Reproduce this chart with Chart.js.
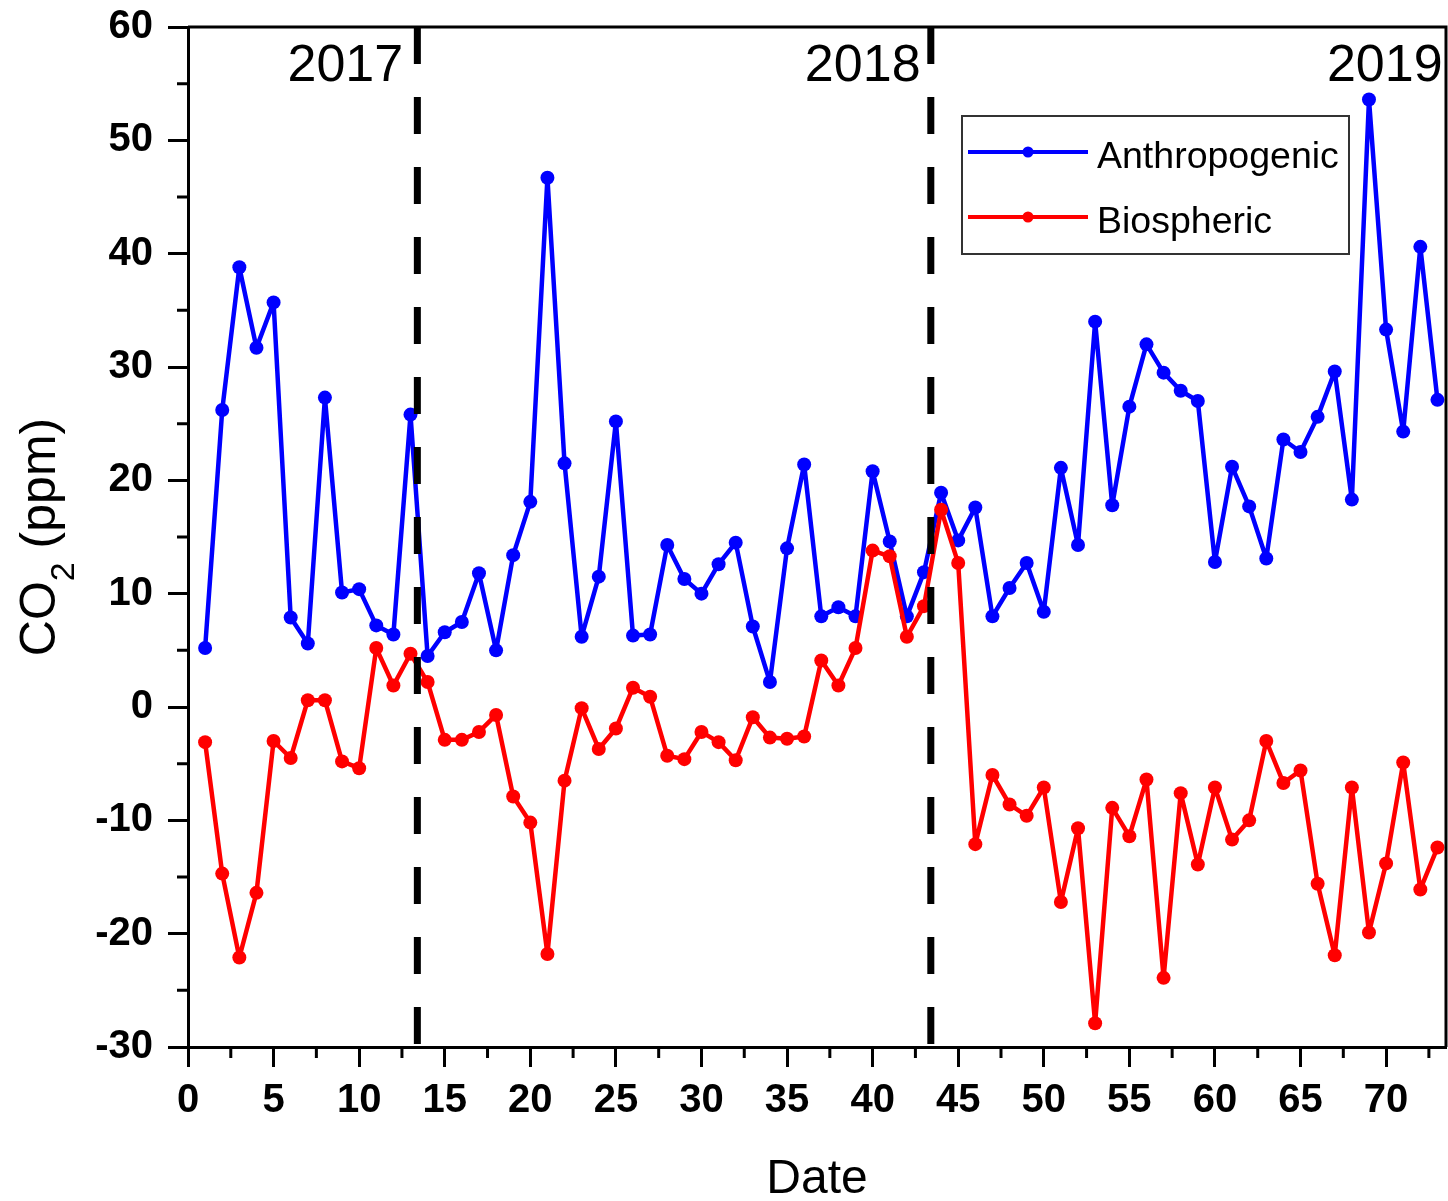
<!DOCTYPE html>
<html lang="en">
<head>
<meta charset="utf-8">
<title>CO2 (ppm) - Anthropogenic / Biospheric</title>
<script src="https://cdn.jsdelivr.net/npm/chart.js@4.4.1/dist/chart.umd.min.js"></script>
<style>
    html, body { margin: 0; padding: 0; background: #fff; }
    canvas { display: block; }
</style>
</head>
<body>
<canvas id="chartCO2" width="1448" height="1201"></canvas>
<script>
// Número de muestra (eje X)
const dates = [
    1, 2, 3, 4, 5, 6, 7, 8, 9, 10, 11, 12, 13, 14, 15, 16, 17, 18, 19, 20,
    21, 22, 23, 24, 25, 26, 27, 28, 29, 30, 31, 32, 33, 34, 35, 36, 37, 38, 39, 40,
    41, 42, 43, 44, 45, 46, 47, 48, 49, 50, 51, 52, 53, 54, 55, 56, 57, 58, 59, 60,
    61, 62, 63, 64, 65, 66, 67, 68, 69, 70, 71, 72, 73
];

// CO2 antropogénico (ppm)
const anthropogenic = [
    5.2, 26.2, 38.8, 31.7, 35.7, 7.9, 5.6, 27.3, 10.1, 10.4, 7.2, 6.4, 25.8, 4.5, 6.6, 7.5, 11.8, 5.0, 13.4, 18.1,
    46.7, 21.5, 6.2, 11.5, 25.2, 6.3, 6.4, 14.3, 11.3, 10.0, 12.6, 14.5, 7.1, 2.2, 14.0, 21.4, 8.0, 8.8, 8.0, 20.8,
    14.6, 8.0, 11.9, 18.9, 14.7, 17.6, 8.0, 10.5, 12.7, 8.4, 21.1, 14.3, 34.0, 17.8, 26.5, 32.0, 29.5, 27.9, 27.0, 12.8,
    21.2, 17.7, 13.1, 23.6, 22.5, 25.6, 29.6, 18.3, 53.6, 33.3, 24.3, 40.6, 27.1
];

// CO2 biosférico (ppm)
const biospheric = [
    -3.1, -14.7, -22.1, -16.4, -3.0, -4.5, 0.6, 0.6, -4.8, -5.4, 5.2, 1.9, 4.7, 2.2, -2.9, -2.9, -2.2, -0.7, -7.9, -10.2,
    -21.8, -6.5, -0.1, -3.7, -1.9, 1.7, 0.9, -4.3, -4.6, -2.2, -3.1, -4.7, -0.9, -2.7, -2.8, -2.6, 4.1, 1.9, 5.2, 13.8,
    13.3, 6.2, 8.9, 17.4, 12.7, -12.1, -6.0, -8.6, -9.6, -7.1, -17.2, -10.7, -27.9, -8.9, -11.4, -6.4, -23.9, -7.6, -13.9, -7.1,
    -11.7, -10.0, -3.0, -6.7, -5.6, -15.6, -21.9, -7.1, -19.9, -13.8, -4.9, -16.1, -12.4
];

// Cambios de año (líneas discontinuas) y rótulos de cada año
const yearBreaks = [13.4, 43.4];
const yearLabels = ["2017", "2018", "2019"];

// Marcas de los ejes
const xTicks = [0, 5, 10, 15, 20, 25, 30, 35, 40, 45, 50, 55, 60, 65, 70];
const xMinorTicks = [2.5, 7.5, 12.5, 17.5, 22.5, 27.5, 32.5, 37.5, 42.5, 47.5, 52.5, 57.5, 62.5, 67.5, 72.5];
const yTicks = [-30, -20, -10, 0, 10, 20, 30, 40, 50, 60];
const yMinorTicks = [-25, -15, -5, 5, 15, 25, 35, 45, 55];

const FONT = 'Arial, "Liberation Sans", sans-serif';

/**
 * Convierte dos arreglos paralelos en puntos {x, y} para un eje lineal.
 */
function toPoints(xs, ys) {
    return xs.map((x, i) => ({ x: x, y: ys[i] }));
}

/**
 * Fija el tamaño de un eje y anula el margen extra que Chart.js reserva
 * para los rótulos de los extremos.
 */
function fixAxis(size) {
    return scale => {
        if (scale.isHorizontal()) {
            scale.height = size;
        } else {
            scale.width = size;
        }
        scale.paddingTop = 0;
        scale.paddingBottom = 0;
        scale.paddingLeft = 0;
        scale.paddingRight = 0;
    };
}

/**
 * Marcas menores de ambos ejes y marco superior/derecho del área de trazado.
 */
const minorTicksPlugin = {
    id: "minorTicks",
    afterDraw(chart, args, opts) {
        const { ctx, chartArea, scales } = chart;
        ctx.save();
        ctx.strokeStyle = "#000";
        ctx.lineWidth = 3;
        ctx.beginPath();
        xMinorTicks.forEach(v => {
            const px = scales.x.getPixelForValue(v);
            ctx.moveTo(px, chartArea.bottom);
            ctx.lineTo(px, chartArea.bottom + opts.length);
        });
        yMinorTicks.forEach(v => {
            const py = scales.y.getPixelForValue(v);
            ctx.moveTo(chartArea.left, py);
            ctx.lineTo(chartArea.left - opts.length, py);
        });
        // marco: arriba y a la derecha
        ctx.moveTo(chartArea.left, chartArea.top);
        ctx.lineTo(chartArea.right, chartArea.top);
        ctx.lineTo(chartArea.right, chartArea.bottom);
        ctx.stroke();
        ctx.restore();
    }
};

/**
 * Rótulos de año, alineados a la derecha sobre cada tramo.
 */
const yearLabelsPlugin = {
    id: "yearLabels",
    afterDatasetsDraw(chart, args, opts) {
        const { ctx, scales } = chart;
        ctx.save();
        ctx.font = `${opts.size}px ${FONT}`;
        ctx.fillStyle = "#000";
        ctx.textAlign = "right";
        ctx.textBaseline = "alphabetic";
        const py = scales.y.getPixelForValue(opts.baseline);
        yearLabels.forEach((txt, i) => {
            ctx.fillText(txt, scales.x.getPixelForValue(opts.rightEdge[i]), py);
        });
        ctx.restore();
    }
};

/**
 * Título del eje Y con el subíndice de CO2.
 */
const yTitlePlugin = {
    id: "yTitle",
    afterDraw(chart, args, opts) {
        const { ctx, chartArea } = chart;
        const big = `${opts.size}px ${FONT}`;
        const small = `${opts.subSize}px ${FONT}`;
        ctx.save();
        ctx.font = big;
        const wCO = ctx.measureText("CO").width;
        const wRest = ctx.measureText(" (ppm)").width;
        ctx.font = small;
        const wSub = ctx.measureText("2").width;
        const total = wCO + wSub + wRest;

        ctx.translate(opts.baselineX, (chartArea.top + chartArea.bottom) / 2);
        ctx.rotate(-Math.PI / 2);
        ctx.fillStyle = "#000";
        ctx.textAlign = "left";
        ctx.textBaseline = "alphabetic";
        let x = -total / 2;
        ctx.font = big;
        ctx.fillText("CO", x, 0);
        x += wCO;
        ctx.font = small;
        ctx.fillText("2", x, opts.subShift);
        x += wSub;
        ctx.font = big;
        ctx.fillText(" (ppm)", x, 0);
        ctx.restore();
    }
};

/**
 * Leyenda con recuadro: línea con marcador y nombre de la serie.
 */
const boxLegendPlugin = {
    id: "boxLegend",
    afterDraw(chart, args, opts) {
        const { ctx } = chart;
        const b = opts.box;
        ctx.save();
        ctx.fillStyle = "#fff";
        ctx.fillRect(b.left, b.top, b.right - b.left, b.bottom - b.top);
        ctx.strokeStyle = "#333";
        ctx.lineWidth = 2;
        ctx.strokeRect(b.left, b.top, b.right - b.left, b.bottom - b.top);

        const series = chart.data.datasets.filter(ds => ds.inLegend);
        series.forEach((ds, i) => {
            const ly = opts.firstLineY + i * opts.rowGap;
            ctx.strokeStyle = ds.borderColor;
            ctx.lineWidth = 4;
            ctx.beginPath();
            ctx.moveTo(opts.lineX0, ly);
            ctx.lineTo(opts.lineX1, ly);
            ctx.stroke();
            ctx.fillStyle = ds.borderColor;
            ctx.beginPath();
            ctx.arc((opts.lineX0 + opts.lineX1) / 2, ly, 5.5, 0, Math.PI * 2);
            ctx.fill();

            ctx.fillStyle = "#000";
            ctx.font = `${opts.size}px ${FONT}`;
            ctx.textAlign = "left";
            ctx.textBaseline = "alphabetic";
            ctx.fillText(ds.label, opts.textX, ly + opts.textDrop);
        });
        ctx.restore();
    }
};

function seriesDataset(label, values, color, order) {
    return {
        label: label,
        inLegend: true,
        data: toPoints(dates, values),
        borderColor: color,
        backgroundColor: color,
        borderWidth: 4.5,
        borderJoinStyle: "round",
        pointRadius: 7,
        pointBorderWidth: 0,
        pointBackgroundColor: color,
        tension: 0,
        order: order
    };
}

function breakDataset(xValue) {
    return {
        label: "",
        inLegend: false,
        data: [{ x: xValue, y: 60 }, { x: xValue, y: -30 }],
        borderColor: "#000",
        borderWidth: 7,
        borderDash: [37, 33],
        pointRadius: 0,
        order: 1
    };
}

function initCO2Chart() {
    const canvas = document.getElementById("chartCO2");

    const datasets = [
        seriesDataset("Anthropogenic", anthropogenic, "#0000FF", 3),
        seriesDataset("Biospheric", biospheric, "#FF0000", 2)
    ].concat(yearBreaks.map(breakDataset));

    new Chart(canvas, {
        type: "line",
        data: { datasets: datasets },
        plugins: [minorTicksPlugin, yearLabelsPlugin, yTitlePlugin, boxLegendPlugin],
        options: {
            responsive: false,
            animation: false,
            devicePixelRatio: 1,
            layout: { autoPadding: false, padding: { top: 27, right: 2, left: 0, bottom: 0 } },
            plugins: {
                legend: { display: false },
                tooltip: { enabled: false },
                minorTicks: { length: 11 },
                yearLabels: { size: 52, baseline: 55.2, rightEdge: [12.57, 42.8, 73.3] },
                yTitle: { size: 50, subSize: 34, subShift: 19, baselineX: 55 },
                boxLegend: {
                    box: { left: 962, top: 116, right: 1349, bottom: 254 },
                    lineX0: 968, lineX1: 1088, firstLineY: 152, rowGap: 65,
                    textX: 1097, textDrop: 16, size: 37.5
                }
            },
            scales: {
                x: {
                    type: "linear",
                    min: 0,
                    max: 73.5,
                    afterBuildTicks: scale => { scale.ticks = xTicks.map(v => ({ value: v })); },
                    afterFit: fixAxis(154),
                    ticks: {
                        color: "#000",
                        font: { family: FONT, size: 40, weight: "bold" },
                        padding: 10,
                        maxRotation: 0,
                        autoSkip: false
                    },
                    grid: { drawOnChartArea: false, drawTicks: true, tickLength: 20, tickWidth: 3, tickColor: "#000" },
                    border: { color: "#000", width: 3 },
                    title: {
                        display: true,
                        text: "Date",
                        color: "#000",
                        font: { family: FONT, size: 48, lineHeight: 0.9 },
                        padding: 0
                    }
                },
                y: {
                    min: -30,
                    max: 60,
                    afterBuildTicks: scale => { scale.ticks = yTicks.map(v => ({ value: v })); },
                    afterFit: fixAxis(188),
                    ticks: {
                        color: "#000",
                        font: { family: FONT, size: 40, weight: "bold" },
                        padding: 15,
                        autoSkip: false
                    },
                    grid: { drawOnChartArea: false, drawTicks: true, tickLength: 20, tickWidth: 3, tickColor: "#000" },
                    border: { color: "#000", width: 3 }
                }
            }
        }
    });
}

document.addEventListener("DOMContentLoaded", initCO2Chart);
</script>
</body>
</html>
